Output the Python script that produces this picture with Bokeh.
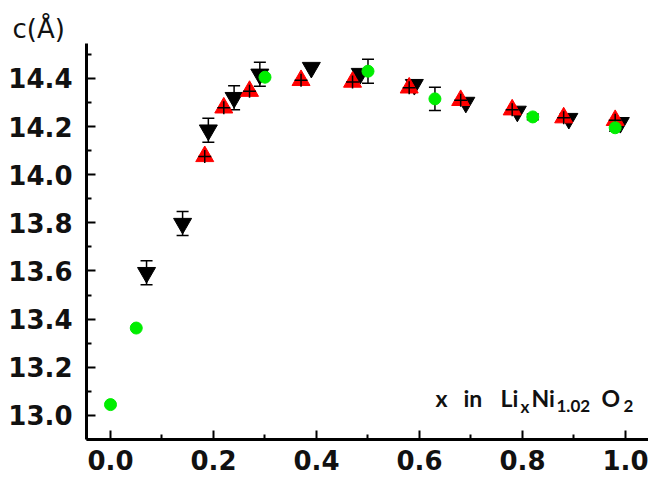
from bokeh.plotting import figure
from bokeh.models import Whisker, TeeHead, ColumnDataSource, FixedTicker, NumeralTickFormatter, Label, Range1d, Title
from bokeh.embed import file_html
from bokeh.resources import INLINE

# ---- data ----
green_x = [0.0, 0.05, 0.30, 0.50, 0.63, 0.82, 0.98]
green_y = [13.045, 13.363, 14.405, 14.43, 14.315, 14.24, 14.195]
green_err = [0, 0, 0, 0.05, 0.048, 0.012, 0.015]

black_x = [0.07, 0.14, 0.19, 0.24, 0.29, 0.39, 0.485, 0.59, 0.69, 0.79, 0.89, 0.99]
black_y = [13.593, 13.797, 14.185, 14.32, 14.417, 14.445, 14.42, 14.374, 14.30, 14.263, 14.233, 14.216]
black_err = [0.05, 0.05, 0.05, 0.05, 0.05, 0, 0, 0, 0, 0, 0, 0]

red_x = [0.183, 0.22, 0.27, 0.37, 0.47, 0.58, 0.68, 0.78, 0.88, 0.98]
red_y = [14.076, 14.278, 14.347, 14.392, 14.385, 14.361, 14.309, 14.27, 14.237, 14.226]

x_ticks = [0.0, 0.2, 0.4, 0.6, 0.8, 1.0]
y_ticks = [13.0, 13.2, 13.4, 13.6, 13.8, 14.0, 14.2, 14.4]

W, H = 648, 480
p = figure(width=W, height=H, output_backend="svg", toolbar_location=None,
           x_range=Range1d(-0.0466, 1.0447), y_range=Range1d(12.9, 14.545))
p.min_border_left = 86
p.min_border_right = 0
p.min_border_top = 43
p.min_border_bottom = 41
p.outline_line_color = None
p.grid.visible = False
p.background_fill_color = "white"

for ax in (p.xaxis[0], p.yaxis[0]):
    ax.axis_line_width = 3
    ax.axis_line_color = "black"
    ax.major_tick_in = 9
    ax.major_tick_out = 0
    ax.minor_tick_in = 5
    ax.minor_tick_out = 0
    ax.major_tick_line_width = 2
    ax.minor_tick_line_width = 2
    ax.major_tick_line_color = "black"
    ax.minor_tick_line_color = "black"
    ax.major_label_text_font = "DejaVu Sans"
    ax.major_label_text_font_style = "bold"
    ax.major_label_text_font_size = "26px"
    ax.major_label_text_color = "#111111"
    ax.formatter = NumeralTickFormatter(format="0.0")

p.xaxis[0].ticker = FixedTicker(ticks=x_ticks, minor_ticks=[0.1, 0.3, 0.5, 0.7, 0.9])
p.yaxis[0].ticker = FixedTicker(ticks=y_ticks, minor_ticks=[12.9, 13.1, 13.3, 13.5, 13.7, 13.9, 14.1, 14.3, 14.5])
p.xaxis[0].major_label_standoff = 10
p.yaxis[0].major_label_standoff = 14

# y-axis title at the top-left
p.add_layout(Title(text="c(Å)", align="left", offset=-74, text_font="DejaVu Sans",
                   text_font_size="26px", text_font_style="normal", text_color="#111111",
                   standoff=0), "above")

# black inverted triangles
p.scatter(black_x, black_y, marker="inverted_triangle", size=18, fill_color="black", line_color="black")
bx = [x for x, e in zip(black_x, black_err) if e > 0]
by = [y for y, e in zip(black_y, black_err) if e > 0]
be = [e for e in black_err if e > 0]
bsrc = ColumnDataSource(dict(x=bx, lo=[y - e for y, e in zip(by, be)], hi=[y + e for y, e in zip(by, be)]))
p.add_layout(Whisker(source=bsrc, base="x", lower="lo", upper="hi", line_color="black", line_width=1.5,
                     upper_head=TeeHead(size=12, line_color="black", line_width=1.5),
                     lower_head=TeeHead(size=12, line_color="black", line_width=1.5)))

# red triangles with black crosses
p.scatter(red_x, red_y, marker="triangle", size=18, fill_color="#ff0000", line_color="#ff0000")
p.scatter(red_x, red_y, marker="cross", size=13, line_color="black", line_width=1.5)

# green circles
p.scatter(green_x, green_y, marker="circle", size=12, fill_color="#00ee00", line_color="#00ee00")
gx = [x for x, e in zip(green_x, green_err) if e > 0]
gy = [y for y, e in zip(green_y, green_err) if e > 0]
ge = [e for e in green_err if e > 0]
gsrc = ColumnDataSource(dict(x=gx, lo=[y - e for y, e in zip(gy, ge)], hi=[y + e for y, e in zip(gy, ge)]))
p.add_layout(Whisker(source=gsrc, base="x", lower="lo", upper="hi", line_color="black", line_width=1.5,
                     upper_head=TeeHead(size=12, line_color="black", line_width=1.5),
                     lower_head=TeeHead(size=12, line_color="black", line_width=1.5)))

# annotation positions (converted from picture pixels to data units of this figure)
def dx(px):
    return (px - 110) / 515.0

def dy(py):
    return 13.0 + (415 - py) / 240.7

main_font = "Lato"
parts = [
    (435, 398, "x", "23px"),
    (463, 398, "in", "23px"),
    (500, 398, "Li", "23px"),
    (520, 406, "x", "17px"),
    (531, 398, "Ni", "23px"),
    (556, 406, "1.02", "17px"),
    (601, 398, "O", "23px"),
    (623, 406, "2", "17px"),
]
for px, py, t, fs in parts:
    p.add_layout(Label(x=dx(px), y=dy(py), text=t, text_font=main_font, text_font_style="bold",
                       text_font_size=fs, text_color="#111111", text_baseline="alphabetic"))

open("out.html", "w").write(file_html(p, INLINE))
